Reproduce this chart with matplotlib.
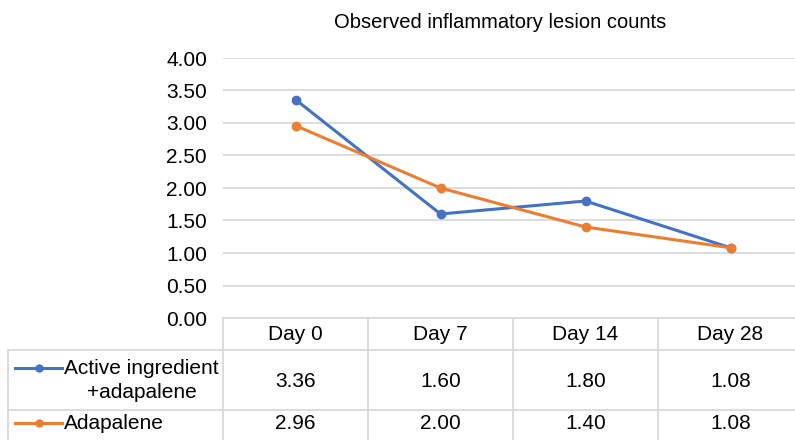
import matplotlib
matplotlib.use("Agg")
import matplotlib.pyplot as plt
from matplotlib.lines import Line2D
from matplotlib.transforms import blended_transform_factory

plt.rcParams['font.family'] = ['Liberation Sans', 'DejaVu Sans']

title = "Observed inflammatory lesion counts"
categories = ["Day 0", "Day 7", "Day 14", "Day 28"]
series_names = ["Active ingredient\n+adapalene", "Adapalene"]
active_vals = [3.36, 1.60, 1.80, 1.08]
adapalene_vals = [2.96, 2.00, 1.40, 1.08]
yticks = [0.0, 0.5, 1.0, 1.5, 2.0, 2.5, 3.0, 3.5, 4.0]

colors = ["#4472C4", "#ED7D31"]
grid_c = "#D9D9D9"
W, H = 795, 440
fig = plt.figure(figsize=(W / 100, H / 100), dpi=100)

# plot area in pixel geometry
x0, x1 = 223, 223 + 4 * 145
ytop, ybot = 58, 318
ax = fig.add_axes([x0 / W, 1 - ybot / H, (x1 - x0) / W, (ybot - ytop) / H])
ax.set_xlim(-0.5, len(categories) - 0.5)
ax.set_ylim(0, 4)
ax.set_yticks(yticks)
ax.set_yticklabels([f"{v:.2f}" for v in yticks], fontsize=15)
ax.set_xticks([])
ax.tick_params(axis='y', length=0, pad=11.5)
for s in ax.spines.values():
    s.set_visible(False)
ax.grid(axis='y', color=grid_c, lw=1.3)
ax.set_axisbelow(True)

xs = list(range(len(categories)))
for vals, c in zip([active_vals, adapalene_vals], colors):
    ax.plot(xs, vals, color=c, lw=2.2, marker='o', ms=6, clip_on=False, zorder=3)

fig.text(500 / W, 1 - 22 / H, title, ha='center', va='center', fontsize=14.5)

# data table
def fy(py):
    return 1 - py / H

tb = blended_transform_factory(ax.transData, fig.transFigure)
tf = fig.transFigure
bottom = 445
lkw = dict(color=grid_c, lw=1.3, clip_on=False)
# horizontal lines
fig.add_artist(Line2D([x0 / W, 1], [fy(318)] * 2, transform=tf, **lkw))
for py in [350, 410]:
    fig.add_artist(Line2D([8 / W, 1], [fy(py)] * 2, transform=tf, **lkw))
# vertical lines
fig.add_artist(Line2D([8 / W] * 2, [fy(350), fy(bottom)], transform=tf, **lkw))
for i in range(len(categories) + 1):
    xb = i - 0.5
    fig.add_artist(Line2D([xb, xb], [fy(318), fy(bottom)], transform=tb, **lkw))

fs = 15
for i, cat in enumerate(categories):
    fig.text(i, fy(334), cat, transform=tb, ha='center', va='center', fontsize=fs)
    fig.text(i, fy(381), f"{active_vals[i]:.2f}", transform=tb, ha='center', va='center', fontsize=fs)
    fig.text(i, fy(423), f"{adapalene_vals[i]:.2f}", transform=tb, ha='center', va='center', fontsize=fs)

# legend keys in table
for py, name, c in [(368, series_names[0], colors[0]), (423, series_names[1], colors[1])]:
    fig.add_artist(Line2D([15 / W, 62 / W], [fy(py)] * 2, transform=tf, color=c, lw=2.2))
    fig.add_artist(Line2D([38.5 / W], [fy(py)], transform=tf, color=c, marker='o', ms=5))
lines0 = series_names[0].split("\n")
fig.text(64 / W, fy(368), lines0[0], ha='left', va='center', fontsize=fs)
fig.text(142 / W, fy(392), lines0[1], ha='center', va='center', fontsize=fs)
fig.text(64 / W, fy(423), series_names[1], ha='left', va='center', fontsize=fs)

fig.savefig("out.png", dpi=100)
